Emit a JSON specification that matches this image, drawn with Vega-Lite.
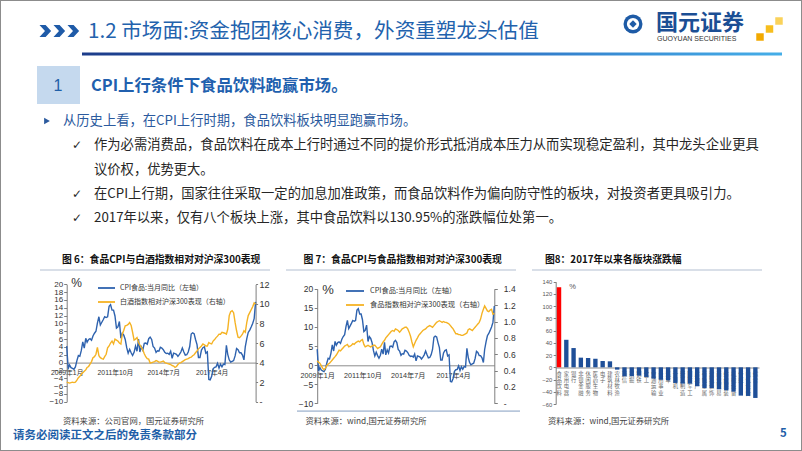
{
"$schema": "https://vega.github.io/schema/vega-lite/v6.json",
"width": 802, "height": 451,
"autosize": {"type": "none"},
"padding": 0,
"background": "#ffffff",
"config": {
  "view": {"stroke": "#8C8C8C", "strokeWidth": 2},
  "axis": {"grid": false, "domainColor": "#7F7F7F", "tickColor": "#7F7F7F", "labelColor": "#333333", "labelFont": "Liberation Sans, Noto Sans CJK SC", "titleFont": "Liberation Sans, Noto Sans CJK SC", "titleColor": "#333333", "domainWidth": 1, "tickWidth": 1},
  "text": {"font": "Noto Sans CJK SC"}
},
"datasets": {
  "months": [
    {"m":"2009-01","cpi":4.2,"bj":2.0,"fd":0.52},{"m":"2009-02","cpi":-1.6,"bj":1.95,"fd":0.50},{"m":"2009-03","cpi":-0.6,"bj":1.9,"fd":0.49},{"m":"2009-04","cpi":-1.3,"bj":1.95,"fd":0.46},{"m":"2009-05","cpi":-1.5,"bj":2.0,"fd":0.43},{"m":"2009-06","cpi":-1.7,"bj":1.95,"fd":0.41},{"m":"2009-07","cpi":-1.1,"bj":2.0,"fd":0.43},{"m":"2009-08","cpi":0.5,"bj":2.2,"fd":0.46},{"m":"2009-09","cpi":1.8,"bj":2.45,"fd":0.48},{"m":"2009-10","cpi":1.6,"bj":2.6,"fd":0.49},{"m":"2009-11","cpi":3.1,"bj":2.8,"fd":0.51},{"m":"2009-12","cpi":5.3,"bj":2.95,"fd":0.53},
    {"m":"2010-01","cpi":3.7,"bj":3.1,"fd":0.55},{"m":"2010-02","cpi":6.2,"bj":3.25,"fd":0.57},{"m":"2010-03","cpi":5.2,"bj":3.5,"fd":0.59},{"m":"2010-04","cpi":5.9,"bj":3.6,"fd":0.62},{"m":"2010-05","cpi":6.1,"bj":3.85,"fd":0.65},{"m":"2010-06","cpi":5.7,"bj":4.1,"fd":0.64},{"m":"2010-07","cpi":6.8,"bj":4.5,"fd":0.66},{"m":"2010-08","cpi":7.5,"bj":4.6,"fd":0.68},{"m":"2010-09","cpi":8.0,"bj":4.85,"fd":0.70},{"m":"2010-10","cpi":10.1,"bj":5.55,"fd":0.71},{"m":"2010-11","cpi":11.7,"bj":4.7,"fd":0.72},{"m":"2010-12","cpi":9.6,"bj":4.5,"fd":0.69},
    {"m":"2011-01","cpi":10.3,"bj":4.4,"fd":0.70},{"m":"2011-02","cpi":11.0,"bj":4.35,"fd":0.71},{"m":"2011-03","cpi":11.7,"bj":4.6,"fd":0.73},{"m":"2011-04","cpi":11.5,"bj":4.85,"fd":0.72},{"m":"2011-05","cpi":11.7,"bj":5.5,"fd":0.74},{"m":"2011-06","cpi":14.4,"bj":5.7,"fd":0.75},{"m":"2011-07","cpi":14.8,"bj":6.0,"fd":0.76},{"m":"2011-08","cpi":13.4,"bj":6.2,"fd":0.75},{"m":"2011-09","cpi":13.4,"bj":5.9,"fd":0.77},{"m":"2011-10","cpi":11.9,"bj":6.4,"fd":0.78},{"m":"2011-11","cpi":8.8,"bj":6.3,"fd":0.72},{"m":"2011-12","cpi":9.1,"bj":6.2,"fd":0.69},
    {"m":"2012-01","cpi":10.5,"bj":6.0,"fd":0.70},{"m":"2012-02","cpi":6.2,"bj":5.9,"fd":0.71},{"m":"2012-03","cpi":7.5,"bj":6.9,"fd":0.70},{"m":"2012-04","cpi":7.0,"bj":7.3,"fd":0.69},{"m":"2012-05","cpi":5.9,"bj":7.75,"fd":0.70},{"m":"2012-06","cpi":3.8,"bj":7.8,"fd":0.71},{"m":"2012-07","cpi":2.4,"bj":7.9,"fd":0.71},{"m":"2012-08","cpi":3.4,"bj":8.1,"fd":0.69},{"m":"2012-09","cpi":2.5,"bj":7.8,"fd":0.67},{"m":"2012-10","cpi":1.8,"bj":7.1,"fd":0.68},{"m":"2012-11","cpi":2.6,"bj":6.3,"fd":0.69},{"m":"2012-12","cpi":4.2,"bj":6.4,"fd":0.72},
    {"m":"2013-01","cpi":2.9,"bj":6.55,"fd":0.75},{"m":"2013-02","cpi":6.0,"bj":6.05,"fd":0.77},{"m":"2013-03","cpi":2.7,"bj":5.8,"fd":0.80},{"m":"2013-04","cpi":4.0,"bj":5.55,"fd":0.82},{"m":"2013-05","cpi":3.2,"bj":5.3,"fd":0.84},{"m":"2013-06","cpi":4.9,"bj":4.9,"fd":0.86},{"m":"2013-07","cpi":5.0,"bj":4.6,"fd":0.88},{"m":"2013-08","cpi":4.7,"bj":4.4,"fd":0.89},{"m":"2013-09","cpi":6.1,"bj":4.35,"fd":0.88},{"m":"2013-10","cpi":6.5,"bj":3.95,"fd":0.91},{"m":"2013-11","cpi":5.9,"bj":4.0,"fd":0.90},{"m":"2013-12","cpi":4.1,"bj":4.05,"fd":0.89},
    {"m":"2014-01","cpi":3.7,"bj":4.1,"fd":0.87},{"m":"2014-02","cpi":2.6,"bj":4.2,"fd":0.89},{"m":"2014-03","cpi":3.0,"bj":4.15,"fd":0.91},{"m":"2014-04","cpi":2.9,"bj":4.05,"fd":0.92},{"m":"2014-05","cpi":3.9,"bj":4.05,"fd":0.93},{"m":"2014-06","cpi":3.7,"bj":4.1,"fd":0.93},{"m":"2014-07","cpi":3.3,"bj":4.15,"fd":0.91},{"m":"2014-08","cpi":2.6,"bj":4.0,"fd":0.87},{"m":"2014-09","cpi":2.3,"bj":3.95,"fd":0.82},{"m":"2014-10","cpi":2.4,"bj":3.9,"fd":0.75},{"m":"2014-11","cpi":2.1,"bj":3.85,"fd":0.69},{"m":"2014-12","cpi":2.9,"bj":3.8,"fd":0.73},
    {"m":"2015-01","cpi":1.1,"bj":3.7,"fd":0.77},{"m":"2015-02","cpi":2.4,"bj":3.65,"fd":0.80},{"m":"2015-03","cpi":2.3,"bj":3.5,"fd":0.83},{"m":"2015-04","cpi":2.1,"bj":3.6,"fd":0.85},{"m":"2015-05","cpi":1.6,"bj":3.8,"fd":0.87},{"m":"2015-06","cpi":2.1,"bj":3.95,"fd":0.89},{"m":"2015-07","cpi":2.7,"bj":4.0,"fd":0.90},{"m":"2015-08","cpi":3.7,"bj":4.1,"fd":0.91},{"m":"2015-09","cpi":2.7,"bj":4.2,"fd":0.93},{"m":"2015-10","cpi":1.9,"bj":4.3,"fd":0.94},{"m":"2015-11","cpi":2.0,"bj":4.35,"fd":0.95},{"m":"2015-12","cpi":2.7,"bj":4.4,"fd":0.94},
    {"m":"2016-01","cpi":4.1,"bj":4.5,"fd":0.93},{"m":"2016-02","cpi":7.3,"bj":4.55,"fd":0.95},{"m":"2016-03","cpi":7.6,"bj":4.7,"fd":0.97},{"m":"2016-04","cpi":7.4,"bj":4.8,"fd":0.99},{"m":"2016-05","cpi":5.9,"bj":5.0,"fd":1.00},{"m":"2016-06","cpi":4.6,"bj":5.2,"fd":1.01},{"m":"2016-07","cpi":1.3,"bj":5.4,"fd":1.00},{"m":"2016-08","cpi":1.3,"bj":5.55,"fd":0.99},{"m":"2016-09","cpi":3.2,"bj":5.7,"fd":1.00},{"m":"2016-10","cpi":3.8,"bj":5.9,"fd":0.99},{"m":"2016-11","cpi":4.0,"bj":5.8,"fd":0.99},{"m":"2016-12","cpi":2.4,"bj":5.7,"fd":0.98},
    {"m":"2017-01","cpi":2.7,"bj":5.7,"fd":0.97},{"m":"2017-02","cpi":-4.3,"bj":6.05,"fd":0.95},{"m":"2017-03","cpi":-4.4,"bj":5.95,"fd":0.93},{"m":"2017-04","cpi":-3.5,"bj":5.9,"fd":0.91},{"m":"2017-05","cpi":-1.6,"bj":6.2,"fd":0.88},{"m":"2017-06","cpi":-1.2,"bj":6.35,"fd":0.85},{"m":"2017-07","cpi":-1.1,"bj":6.55,"fd":0.85},{"m":"2017-08","cpi":-0.2,"bj":6.7,"fd":0.84},{"m":"2017-09","cpi":-1.4,"bj":6.9,"fd":0.84},{"m":"2017-10","cpi":-0.4,"bj":6.9,"fd":0.83},{"m":"2017-11","cpi":-1.1,"bj":7.1,"fd":0.83},{"m":"2017-12","cpi":-0.4,"bj":7.05,"fd":0.84},
    {"m":"2018-01","cpi":-0.5,"bj":7.0,"fd":0.85},{"m":"2018-02","cpi":4.4,"bj":6.9,"fd":0.86},{"m":"2018-03","cpi":2.1,"bj":7.4,"fd":0.90},{"m":"2018-04","cpi":0.7,"bj":8.8,"fd":0.91},{"m":"2018-05","cpi":0.1,"bj":9.2,"fd":0.90},{"m":"2018-06","cpi":0.3,"bj":9.3,"fd":0.89},{"m":"2018-07","cpi":0.5,"bj":9.1,"fd":0.91},{"m":"2018-08","cpi":1.7,"bj":8.1,"fd":0.93},{"m":"2018-09","cpi":3.6,"bj":7.25,"fd":0.95},{"m":"2018-10","cpi":3.3,"bj":6.6,"fd":0.97},{"m":"2018-11","cpi":2.5,"bj":6.55,"fd":0.99},{"m":"2018-12","cpi":2.5,"bj":6.7,"fd":1.03},
    {"m":"2019-01","cpi":1.9,"bj":6.9,"fd":1.10},{"m":"2019-02","cpi":0.7,"bj":7.25,"fd":1.15},{"m":"2019-03","cpi":4.1,"bj":7.1,"fd":1.19},{"m":"2019-04","cpi":6.1,"bj":8.1,"fd":1.16},{"m":"2019-05","cpi":7.7,"bj":8.8,"fd":1.13},{"m":"2019-06","cpi":8.3,"bj":9.1,"fd":1.12},{"m":"2019-07","cpi":9.1,"bj":9.4,"fd":1.14},{"m":"2019-08","cpi":10.0,"bj":9.7,"fd":1.15},{"m":"2019-09","cpi":11.2,"bj":10.1,"fd":1.09},{"m":"2019-10","cpi":15.5,"bj":10.0,"fd":1.10}
  ],
  "sectors": [
    {"name":"食品饮料","v":130.95},{"name":"家用电器","v":45},{"name":"银行","v":31.5},{"name":"非银金融","v":15.8},{"name":"休闲服务","v":15.2},{"name":"医药生物","v":14},{"name":"电子","v":10.3},{"name":"建筑材料","v":9.8},{"name":"农林牧渔","v":-3.8},{"name":"通信","v":-14.7},{"name":"采掘","v":-14.5},{"name":"钢铁","v":-13.6},{"name":"化工","v":-15.8},{"name":"交通运输","v":-18.5},{"name":"公用事业","v":-20.2},{"name":"汽车","v":-21.2},{"name":"计算机","v":-25.6},{"name":"轻工制造","v":-26.7},{"name":"国防军工","v":-26.7},{"name":"房地产","v":-31},{"name":"有色金属","v":-33.8},{"name":"建筑装饰","v":-33.8},{"name":"商业贸易","v":-36},{"name":"纺织服装","v":-37.6},{"name":"机械设备","v":-39.8},{"name":"传媒","v":-46.3},{"name":"电气设备","v":-46.8},{"name":"综合","v":-50.1}
  ],
  "bullets": [
    {"line":1,"lvl":"a","sym":"➢","text":"从历史上看，在CPI上行时期，食品饮料板块明显跑赢市场。"},
    {"line":2,"lvl":"b","sym":"✓","text":"作为必需消费品，食品饮料在成本上行时通过不同的提价形式抵消成本压力从而实现稳定盈利，其中龙头企业更具"},
    {"line":3,"lvl":"b","sym":"","text":"议价权，优势更大。"},
    {"line":4,"lvl":"b","sym":"✓","text":"在CPI上行期，国家往往采取一定的加息加准政策，而食品饮料作为偏向防守性的板块，对投资者更具吸引力。"},
    {"line":5,"lvl":"b","sym":"✓","text":"2017年以来，仅有八个板块上涨，其中食品饮料以130.95%的涨跌幅位处第一。"}
  ]
},
"layer": [
  {"data": {"values": [{"k":"line"}]},
   "mark": {"type":"rect","color":{"gradient":"linear","x1":0,"y1":0,"x2":1,"y2":0,"stops":[{"offset":0,"color":"#1C3C8A"},{"offset":0.5,"color":"#2A68BE"},{"offset":1,"color":"#45AEE8"}]}},
   "encoding": {
     "x": {"field":"k","type":"nominal","scale":{"type":"band","range":[82,782],"paddingInner":0,"paddingOuter":0},"axis":null},
     "y": {"field":"k","type":"nominal","scale":{"type":"band","range":[52.5,55.5],"paddingInner":0,"paddingOuter":0},"axis":null}}},
  {"data": {"values": [{"k":"box"}]},
   "mark": {"type":"rect","color":"#C5D9EE"},
   "encoding": {
     "x": {"field":"k","type":"nominal","scale":{"type":"band","range":[37,80],"paddingInner":0,"paddingOuter":0},"axis":null},
     "y": {"field":"k","type":"nominal","scale":{"type":"band","range":[66,104],"paddingInner":0,"paddingOuter":0},"axis":null}}},
  {"data": {"values": [{"i":"1"},{"i":"2"},{"i":"3"}]},
   "mark": {"type":"point","shape":"M-0.9,-1L0.1,-1L1,0L0.1,1L-0.9,1L0,0Z","filled":true,"opacity":1,"color":"#1F5BA8","size":150},
   "encoding": {
     "x": {"field":"i","type":"nominal","scale":{"type":"point","range":[45,73],"padding":0},"axis":null},
     "y": {"field":"i","type":"nominal","scale":{"type":"point","range":[31,31],"padding":0},"axis":null}}},
  {"data": {"values": [{"t":"1.2 市场面:资金抱团核心消费，外资重塑龙头估值"}]},
   "mark": {"type":"text","align":"left","baseline":"middle","fontSize":20.6,"color":"#2262AD","font":"Noto Sans CJK SC"},
   "encoding": {"text": {"field":"t"},
     "x": {"field":"t","type":"nominal","scale":{"type":"point","range":[88,88]},"axis":null},
     "y": {"field":"t","type":"nominal","scale":{"type":"point","range":[32,32]},"axis":null}}},
  {"data": {"values": [{"k":"ring"}]},
   "mark": {"type":"point","shape":"circle","filled":true,"opacity":1,"color":"#1E5BA6","size":360},
   "encoding": {
     "x": {"field":"k","type":"nominal","scale":{"type":"point","range":[633,633]},"axis":null},
     "y": {"field":"k","type":"nominal","scale":{"type":"point","range":[24,24]},"axis":null}}},
  {"data": {"values": [{"k":"hole"}]},
   "mark": {"type":"point","shape":"circle","filled":true,"opacity":1,"color":"#FFFFFF","size":150},
   "encoding": {
     "x": {"field":"k","type":"nominal","scale":{"type":"point","range":[633,633]},"axis":null},
     "y": {"field":"k","type":"nominal","scale":{"type":"point","range":[24,24]},"axis":null}}},
  {"data": {"values": [{"k":"gem"}]},
   "mark": {"type":"point","shape":"diamond","filled":true,"opacity":1,"color":"#1E5BA6","size":55},
   "encoding": {
     "x": {"field":"k","type":"nominal","scale":{"type":"point","range":[633,633]},"axis":null},
     "y": {"field":"k","type":"nominal","scale":{"type":"point","range":[24,24]},"axis":null}}},
  {"data": {"values": [{"t":"国元证券"}]},
   "mark": {"type":"text","align":"left","baseline":"middle","fontSize":22,"fontWeight":"bold","color":"#1B4E94","font":"Noto Sans CJK SC"},
   "encoding": {"text": {"field":"t"},
     "x": {"field":"t","type":"nominal","scale":{"type":"point","range":[656,656]},"axis":null},
     "y": {"field":"t","type":"nominal","scale":{"type":"point","range":[23,23]},"axis":null}}},
  {"data": {"values": [{"t":"GUOYUAN SECURITIES"}]},
   "mark": {"type":"text","align":"left","baseline":"middle","fontSize":7,"color":"#333333","font":"Liberation Sans"},
   "encoding": {"text": {"field":"t"},
     "x": {"field":"t","type":"nominal","scale":{"type":"point","range":[657,657]},"axis":null},
     "y": {"field":"t","type":"nominal","scale":{"type":"point","range":[38.5,38.5]},"axis":null}}},
  {"data": {"values": [{"q":"a"},{"q":"b"},{"q":"c"}]},
   "mark": {"type":"point","shape":"square","filled":true,"opacity":1,"size":56},
   "encoding": {
     "x": {"field":"q","type":"nominal","scale":{"type":"point","range":[779,760],"padding":0},"axis":null},
     "y": {"field":"q","type":"nominal","scale":{"type":"point","range":[21,37],"padding":0},"axis":null},
     "color": {"field":"q","type":"nominal","scale":{"range":["#FAD25A","#F7BE1E","#F2A900"]},"legend":null}}},
  {"data": {"values": [{"t":"1"}]},
   "mark": {"type":"text","align":"center","baseline":"middle","fontSize":16,"color":"#1F5FA8","font":"Liberation Sans"},
   "encoding": {"text": {"field":"t"},
     "x": {"field":"t","type":"nominal","scale":{"type":"point","range":[58,58]},"axis":null},
     "y": {"field":"t","type":"nominal","scale":{"type":"point","range":[86,86]},"axis":null}}},
  {"data": {"values": [{"t":"CPI上行条件下食品饮料跑赢市场。"}]},
   "mark": {"type":"text","align":"left","baseline":"middle","fontSize":16.4,"fontWeight":"bold","color":"#2160AE","font":"Noto Sans CJK SC"},
   "encoding": {"text": {"field":"t"},
     "x": {"field":"t","type":"nominal","scale":{"type":"point","range":[91,91]},"axis":null},
     "y": {"field":"t","type":"nominal","scale":{"type":"point","range":[86,86]},"axis":null}}},
  {"data": {"name":"bullets"},
   "transform": [{"filter":"datum.lvl === 'a'"}],
   "mark": {"type":"point","shape":"triangle-right","filled":true,"opacity":1,"color":"#2B5A9E","size":45},
   "encoding": {
     "x": {"field":"lvl","type":"nominal","scale":{"type":"point","domain":["a","b"],"range":[47,77],"padding":0},"axis":null},
     "y": {"field":"line","type":"ordinal","scale":{"type":"point","domain":[1,2,3,4,5],"range":[121,218],"padding":0},"axis":null}}},
  {"data": {"name":"bullets"},
   "transform": [{"filter":"datum.sym === '✓'"}],
   "mark": {"type":"text","align":"center","baseline":"middle","fontSize":12,"color":"#262626","font":"DejaVu Sans"},
   "encoding": {"text": {"field":"sym"},
     "x": {"field":"lvl","type":"nominal","scale":{"type":"point","domain":["a","b"],"range":[47,77],"padding":0},"axis":null},
     "y": {"field":"line","type":"ordinal","scale":{"type":"point","domain":[1,2,3,4,5],"range":[121,218],"padding":0},"axis":null}}},
  {"data": {"name":"bullets"},
   "mark": {"type":"text","align":"left","baseline":"middle","fontSize":13.3,"font":"Noto Sans CJK SC"},
   "encoding": {"text": {"field":"text"},
     "x": {"field":"lvl","type":"nominal","scale":{"type":"point","domain":["a","b"],"range":[63,94],"padding":0},"axis":null},
     "y": {"field":"line","type":"ordinal","scale":{"type":"point","domain":[1,2,3,4,5],"range":[121,218],"padding":0},"axis":null},
     "color": {"field":"lvl","type":"nominal","scale":{"domain":["a","b"],"range":["#2B5A9E","#262626"]},"legend":null}}},
  {"data": {"values": [{"c":"6"},{"c":"7"},{"c":"8"}]},
   "mark": {"type":"rect","color":"#CDD5E0"},
   "encoding": {
     "x": {"field":"c","type":"nominal","scale":{"type":"band","range":[40,762],"paddingInner":0.065,"paddingOuter":0},"axis":null},
     "y": {"datum":"u","type":"nominal","scale":{"type":"band","domain":["u"],"range":[269.2,270.8],"paddingInner":0,"paddingOuter":0},"axis":null}}},
  {"data": {"values": [{"k":"c7"}]},
   "mark": {"type":"rect","color":"#B8C7DB"},
   "encoding": {
     "x": {"field":"k","type":"nominal","scale":{"type":"band","range":[297,520],"paddingInner":0,"paddingOuter":0},"axis":null},
     "y": {"field":"k","type":"nominal","scale":{"type":"band","range":[410.3,412],"paddingInner":0,"paddingOuter":0},"axis":null}}},
  {"data": {"values": [{"c":"6","t":"图 6：食品CPI与白酒指数相对对沪深300表现"},{"c":"7","t":"图 7：食品CPI与食品指数相对对沪深300表现"},{"c":"8","t":"图8：2017年以来各版块涨跌幅"}]},
   "mark": {"type":"text","align":"left","baseline":"middle","fontSize":9.8,"fontWeight":"bold","color":"#111111","font":"Noto Sans CJK SC"},
   "encoding": {"text": {"field":"t"},
     "x": {"field":"c","type":"nominal","scale":{"type":"point","range":[62,545],"padding":0},"axis":null},
     "y": {"field":"c","type":"nominal","scale":{"type":"point","range":[260,260],"padding":0},"axis":null}}},
  {"data": {"values": [{"c":"6","t":"资料来源：公司官网，国元证券研究所"},{"c":"7","t":"资料来源：wind,国元证券研究所"},{"c":"8","t":"资料来源：wind,国元证券研究所"}]},
   "mark": {"type":"text","align":"left","baseline":"middle","fontSize":8.3,"color":"#444444","font":"Noto Sans CJK SC"},
   "encoding": {"text": {"field":"t"},
     "x": {"field":"c","type":"nominal","scale":{"type":"point","range":[63,548],"padding":0},"axis":null},
     "y": {"field":"c","type":"nominal","scale":{"type":"point","range":[422,422],"padding":0},"axis":null}}},
  {"data": {"values": [{"k":"f","t":"请务必阅读正文之后的免责条款部分"},{"k":"p","t":"5"}]},
   "mark": {"type":"text","align":"left","baseline":"middle","fontSize":11.5,"fontWeight":"bold","color":"#1F5FA8","font":"Noto Sans CJK SC"},
   "encoding": {"text": {"field":"t"},
     "x": {"field":"k","type":"nominal","scale":{"type":"point","range":[13,780],"padding":0},"axis":null},
     "y": {"field":"k","type":"nominal","scale":{"type":"point","range":[435.5,434],"padding":0},"axis":null}}},
  {"data": {"name":"months"},
   "layer": [
     {"mark": {"type":"line","strokeWidth":1.4},
      "encoding": {
        "x": {"field":"m","type":"temporal","scale":{"type":"utc","domain":[{"year":2009,"month":1,"date":1,"utc":true},{"year":2019,"month":10,"date":1,"utc":true}],"range":[66.7,255.6],"nice":false},
              "axis":{"orient":"bottom","offset":-88.4,"values":[{"year":2009,"month":1,"date":1,"utc":true},{"year":2011,"month":10,"date":1,"utc":true},{"year":2014,"month":7,"date":1,"utc":true},{"year":2017,"month":4,"date":1,"utc":true}],"labelExpr":"utcFormat(datum.value, '%Y') + '年' + (utcmonth(datum.value) + 1) + '月'","ticks":false,"tickSize":0,"labelPadding":6.5,"labelFontSize":6.8,"labelFlush":false,"labelOverlap":false,"domainColor":"#8C8C8C","title":null}},
        "y": {"field":"cpi","type":"quantitative","scale":{"domain":[-10,20],"range":[401.7,284.3],"nice":false,"zero":false},
              "axis":{"orient":"left","offset":-66.7,"values":[-10,-8,-6,-4,-2,0,2,4,6,8,10,12,14,16,18,20],"labelFontSize":8,"tickSize":3,"labelPadding":1,"labelOverlap":false,"title":"%","titleAngle":0,"titleX":4,"titleY":282,"titleAlign":"left","titleBaseline":"middle","titleFontSize":12,"titleFontWeight":"normal"}},
        "color": {"datum":"CPI食品:当月同比（左轴）","type":"nominal","scale":{"domain":["CPI食品:当月同比（左轴）","白酒指数相对沪深300表现（右轴）"],"range":["#2E62AE","#F5B324"]},
              "legend":{"orient":"none","legendX":97,"legendY":278.5,"title":null,"symbolType":"stroke","symbolSize":289,"symbolStrokeWidth":1.8,"labelFontSize":7,"labelFont":"Noto Sans CJK SC","labelColor":"#333333","labelOffset":4,"rowPadding":-2.5,"padding":0,"direction":"vertical"}}}},
     {"mark": {"type":"line","strokeWidth":1.4},
      "encoding": {
        "x": {"field":"m","type":"temporal","scale":{"type":"utc","domain":[{"year":2009,"month":1,"date":1,"utc":true},{"year":2019,"month":10,"date":1,"utc":true}],"range":[66.7,255.6],"nice":false},
              "axis":{"orient":"bottom","offset":-88.4,"values":[{"year":2009,"month":1,"date":1,"utc":true},{"year":2011,"month":10,"date":1,"utc":true},{"year":2014,"month":7,"date":1,"utc":true},{"year":2017,"month":4,"date":1,"utc":true}],"labelExpr":"utcFormat(datum.value, '%Y') + '年' + (utcmonth(datum.value) + 1) + '月'","ticks":false,"tickSize":0,"labelPadding":6.5,"labelFontSize":6.8,"labelFlush":false,"labelOverlap":false,"domainColor":"#8C8C8C","title":null}},
        "y": {"field":"bj","type":"quantitative","scale":{"domain":[0,12],"range":[401.7,284.3],"nice":false,"zero":false},
              "axis":{"orient":"right","offset":-546.4,"values":[0,2,4,6,8,10,12],"labelExpr":"datum.value === 0 ? '-' : datum.label","labelFontSize":9,"tickSize":2,"labelPadding":1.5,"labelOverlap":false,"title":null}},
        "color": {"datum":"白酒指数相对沪深300表现（右轴）","type":"nominal","scale":{"domain":["CPI食品:当月同比（左轴）","白酒指数相对沪深300表现（右轴）"],"range":["#2E62AE","#F5B324"]},
              "legend":{"orient":"none","legendX":97,"legendY":278.5,"title":null,"symbolType":"stroke","symbolSize":289,"symbolStrokeWidth":1.8,"labelFontSize":7,"labelFont":"Noto Sans CJK SC","labelColor":"#333333","labelOffset":4,"rowPadding":-2.5,"padding":0,"direction":"vertical"}}}}
   ],
   "resolve": {"scale": {"y":"independent"}, "axis": {"y":"independent"}}},
  {"data": {"name":"months"},
   "layer": [
     {"mark": {"type":"line","strokeWidth":1.4},
      "encoding": {
        "x": {"field":"m","type":"temporal","scale":{"type":"utc","domain":[{"year":2009,"month":1,"date":1,"utc":true},{"year":2019,"month":10,"date":1,"utc":true}],"range":[317.2,494.3],"nice":false},
              "axis":{"orient":"bottom","offset":-85.7,"values":[{"year":2009,"month":1,"date":1,"utc":true},{"year":2011,"month":10,"date":1,"utc":true},{"year":2014,"month":7,"date":1,"utc":true},{"year":2017,"month":4,"date":1,"utc":true}],"labelExpr":"utcFormat(datum.value, '%Y') + '年' + (utcmonth(datum.value) + 1) + '月'","ticks":false,"tickSize":0,"labelPadding":6,"labelFontSize":7.2,"labelFlush":false,"labelOverlap":false,"domainColor":"#8C8C8C","title":null}},
        "y": {"field":"cpi","type":"quantitative","scale":{"domain":[-10,20],"range":[403.3,288.8],"nice":false,"zero":false},
              "axis":{"orient":"left","offset":-317.2,"values":[-10,-5,0,5,10,15,20],"labelFontSize":8.5,"tickSize":3,"labelPadding":1.5,"labelOverlap":false,"title":"%","titleAngle":0,"titleX":4.5,"titleY":289,"titleAlign":"left","titleBaseline":"middle","titleFontSize":13,"titleFontWeight":"normal"}},
        "color": {"datum":"CPI食品:当月同比（左轴）","type":"nominal","scale":{"domain":["CPI食品:当月同比（左轴）","食品指数相对沪深300表现（右轴）"],"range":["#2E62AE","#F5B324"]},
              "legend":{"orient":"none","legendX":345,"legendY":281,"title":null,"symbolType":"stroke","symbolSize":324,"symbolStrokeWidth":1.8,"labelFontSize":7.3,"labelFont":"Noto Sans CJK SC","labelColor":"#333333","labelOffset":5,"rowPadding":-2,"padding":0,"direction":"vertical"}}}},
     {"mark": {"type":"line","strokeWidth":1.4},
      "encoding": {
        "x": {"field":"m","type":"temporal","scale":{"type":"utc","domain":[{"year":2009,"month":1,"date":1,"utc":true},{"year":2019,"month":10,"date":1,"utc":true}],"range":[317.2,494.3],"nice":false},
              "axis":{"orient":"bottom","offset":-85.7,"values":[{"year":2009,"month":1,"date":1,"utc":true},{"year":2011,"month":10,"date":1,"utc":true},{"year":2014,"month":7,"date":1,"utc":true},{"year":2017,"month":4,"date":1,"utc":true}],"labelExpr":"utcFormat(datum.value, '%Y') + '年' + (utcmonth(datum.value) + 1) + '月'","ticks":false,"tickSize":0,"labelPadding":6,"labelFontSize":7.2,"labelFlush":false,"labelOverlap":false,"domainColor":"#8C8C8C","title":null}},
        "y": {"field":"fd","type":"quantitative","scale":{"domain":[0,1.4],"range":[403.3,288.8],"nice":false,"zero":false},
              "axis":{"orient":"right","offset":-307.7,"values":[0,0.2,0.4,0.6,0.8,1.0,1.2,1.4],"format":".1f","labelExpr":"datum.value === 0 ? '-' : datum.label","labelFontSize":8.5,"tickSize":3,"labelPadding":6,"labelOverlap":false,"title":null}},
        "color": {"datum":"食品指数相对沪深300表现（右轴）","type":"nominal","scale":{"domain":["CPI食品:当月同比（左轴）","食品指数相对沪深300表现（右轴）"],"range":["#2E62AE","#F5B324"]},
              "legend":{"orient":"none","legendX":345,"legendY":281,"title":null,"symbolType":"stroke","symbolSize":324,"symbolStrokeWidth":1.8,"labelFontSize":7.3,"labelFont":"Noto Sans CJK SC","labelColor":"#333333","labelOffset":5,"rowPadding":-2,"padding":0,"direction":"vertical"}}}}
   ],
   "resolve": {"scale": {"y":"independent"}, "axis": {"y":"independent"}}},
  {"data": {"name":"sectors"},
   "mark": {"type":"bar"},
   "encoding": {
     "x": {"field":"name","type":"nominal","sort":null,"scale":{"type":"band","range":[555.4,759],"paddingInner":0.4,"paddingOuter":0.2},
           "axis":{"orient":"bottom","offset":-83.5,"labelExpr":"split(datum.label, '')","labelAngle":0,"labelAlign":"center","labelBaseline":"top","labelLineHeight":6.4,"labelFontSize":5.3,"labelFont":"Noto Sans CJK SC","labelColor":"#666666","ticks":false,"tickSize":0,"labelPadding":3.5,"labelOverlap":false,"domainColor":"#8C8C8C","title":null}},
     "y": {"field":"v","type":"quantitative","scale":{"domain":[-60,140],"range":[404,281.7],"nice":false,"zero":false},
           "axis":{"orient":"left","offset":-555.7,"values":[-60,-40,-20,0,20,40,60,80,100,120,140],"labelFontSize":5.8,"labelColor":"#555555","tickSize":2.5,"labelPadding":1.5,"labelOverlap":false,"title":"%","titleAngle":0,"titleX":13,"titleY":286,"titleAlign":"left","titleBaseline":"middle","titleFontSize":7.5,"titleFontWeight":"normal","titleColor":"#555555"}},
     "color": {"condition":{"test":"datum.name === '食品饮料'","value":"#FF0000"},"value":"#1F4F98"}}}
],
"resolve": {"scale": {"x":"independent","y":"independent","color":"independent"}, "axis": {"x":"independent","y":"independent"}, "legend": {"color":"independent"}}
}
